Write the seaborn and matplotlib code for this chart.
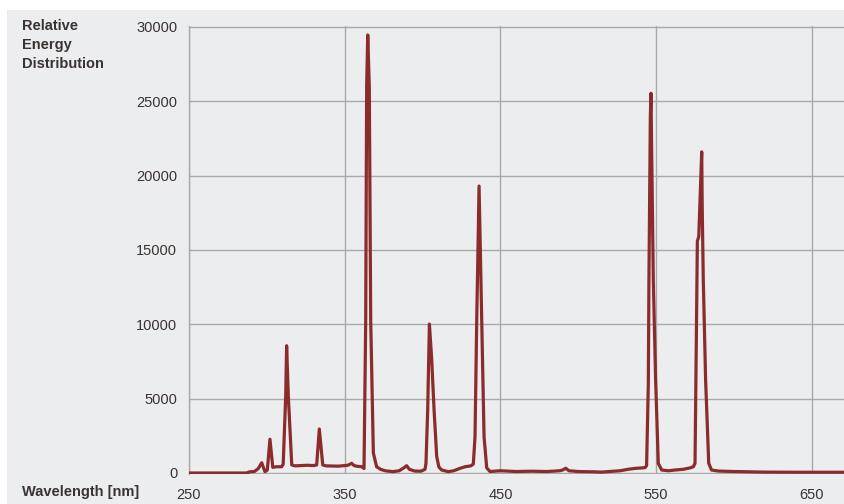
import matplotlib
matplotlib.use("Agg")
import matplotlib.pyplot as plt
from matplotlib import font_manager
from matplotlib.patches import Rectangle
import seaborn as sns
import pandas as pd

wavelength = [250, 287, 289, 292, 294.5, 296.7, 298.8, 300.3, 302.0, 303.8, 306, 309.5,
              310.5, 312.1, 312.7, 313.8, 316.0, 318, 322, 326, 330, 332.0, 333.7, 335.9,
              338, 342, 346, 350, 352, 354.5, 356, 358, 361, 362.4, 363.5, 364.1, 364.8,
              365.8, 366.7, 368.4, 370.5, 373, 376, 381, 385, 388, 389.8, 391.5, 395, 399,
              401.6, 402.2, 403.3, 404.4, 405.9, 407.4, 409.1, 410.5, 412.3, 416.5, 420,
              424, 427.3, 431, 432.6, 433.7, 434.8, 436.3, 438.0, 439.5, 441.2, 443.3,
              450, 460, 470, 480, 488, 490, 492, 494, 500, 510, 515, 520, 526.8, 532,
              536.5, 542.9, 543.9, 545.0, 545.4, 546.3, 546.7, 548.2, 549.7, 551.4, 553.6,
              558, 562, 567.5, 572, 573.9, 575.0, 576.5, 577.1, 577.4, 579.3, 579.6, 580.3,
              581.8, 583.8, 585.6, 590, 600, 610, 620, 640, 660, 671]
energy = [0, 0, 80, 100, 300, 690, 90, 200, 2270, 380, 420, 420,
          600, 5130, 8560, 5130, 540, 480, 500, 520, 500, 540, 2960, 540,
          480, 470, 460, 500, 520, 650, 500, 450, 420, 300, 10290, 25980, 29460,
          25980, 10290, 1345, 420, 250, 150, 90, 150, 350, 490, 250, 130, 120,
          250, 650, 4240, 10020, 7600, 4240, 1100, 400, 200, 90, 150,
          310, 420, 480, 600, 2440, 10290, 19300, 10290, 2440, 350, 100,
          150, 100, 120, 100, 150, 200, 320, 150, 100, 80, 60, 100, 150, 250,
          310, 360, 500, 6000, 13000, 24000, 25540, 13000, 6250, 650, 200,
          150, 200, 250, 350, 420, 650, 15600, 15800, 15900, 21600, 18000, 13000,
          6250, 650, 200, 130, 100, 80, 60, 50, 50, 50]

x_ticks = [250, 350, 450, 550, 650]
y_ticks = [0, 5000, 10000, 15000, 20000, 25000, 30000]
y_label = "Relative\nEnergy\nDistribution"
x_label = "Wavelength [nm]"

df = pd.DataFrame({"wavelength": wavelength, "energy": energy})

BG = "#ebedef"
GRID = "#a9a9a9"
TXT = "#3a3333"
LINE = "#8b2b2b"

sns.set_style("white", {"axes.facecolor": BG})
names = {f.name for f in font_manager.fontManager.ttflist}
fam = "Liberation Sans Narrow" if "Liberation Sans Narrow" in names else "Liberation Sans"
plt.rcParams["font.family"] = [fam, "DejaVu Sans"]

W, H = 845, 504
fig = plt.figure(figsize=(W / 100, H / 100), dpi=100, facecolor="white")
fig.patches.append(Rectangle((7 / W, 0), 1 - 7 / W, (H - 10) / H,
                             transform=fig.transFigure, facecolor=BG,
                             edgecolor="none", zorder=-10))

ymin, ymax = -100, 30100
ppu = 446 / 30000
top_px = 27 - 100 * ppu
bot_px = 473 + 100 * ppu
ax = fig.add_axes([189 / W, 1 - bot_px / H, (W - 189) / W, (bot_px - top_px) / H])
ax.set_facecolor(BG)

sns.lineplot(data=df, x="wavelength", y="energy", ax=ax, color=LINE,
             linewidth=2.3, sort=False, estimator=None, zorder=3)

ax.set_xlim(250, 250 + (W - 189) / 1.557)
ax.set_ylim(ymin, ymax)
ax.set_xticks(x_ticks)
ax.set_yticks(y_ticks)
ax.set_xticklabels([str(v) for v in x_ticks])
ax.set_yticklabels([str(v) for v in y_ticks])
ax.grid(True, color=GRID, linewidth=1.0, zorder=0)
ax.set_axisbelow(True)
for s in ["top", "right", "bottom"]:
    ax.spines[s].set_visible(False)
ax.spines["left"].set_color(GRID)
ax.spines["left"].set_linewidth(1.0)
ax.tick_params(axis="both", direction="out", length=6, width=1.0, color=GRID,
               labelcolor=TXT, labelsize=10.5)
ax.tick_params(axis="y", pad=2.5)
ax.tick_params(axis="x", pad=3.5)
ax.set_xlabel("")
ax.set_ylabel("")

fig.text(22 / W, 1 - 19 / H, y_label, ha="left", va="top", fontsize=10.5,
         fontweight="bold", color=TXT, linespacing=1.45)
fig.text(22 / W, 1 - 492 / H, x_label, ha="left", va="center", fontsize=10.5,
         fontweight="bold", color=TXT)

fig.savefig("out.png", dpi=100, facecolor="white")
